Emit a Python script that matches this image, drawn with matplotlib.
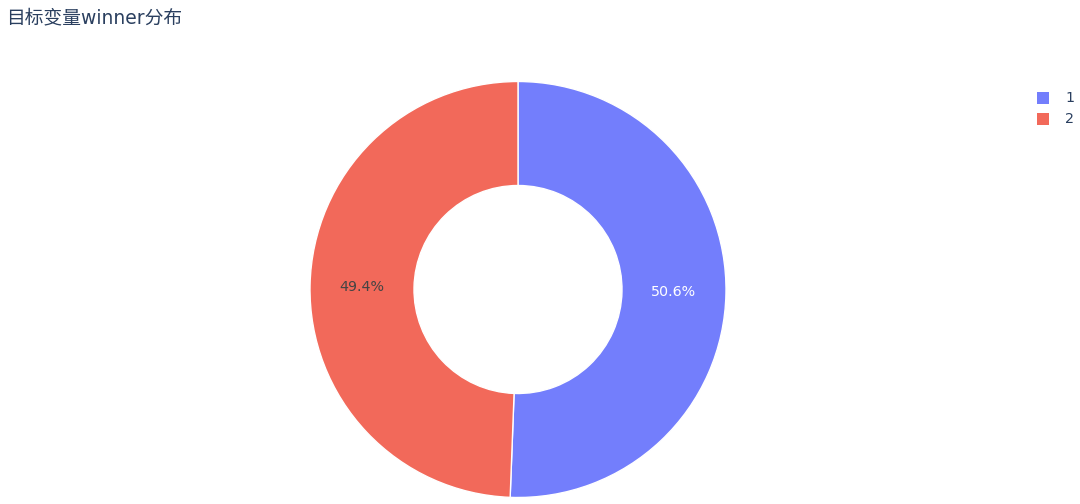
import matplotlib
matplotlib.use("Agg")
import matplotlib.pyplot as plt
from matplotlib.patches import Rectangle

plt.rcParams['font.family'] = ['DejaVu Sans', 'Noto Sans CJK SC']

labels = ['1', '2']
values = [50.6, 49.4]
colors = ['#737efc', '#f2695a']
text_colors = ['white', '#444444']
title = '目标变量winner分布'

W, H = 1080, 504
fig = plt.figure(figsize=(W / 100, H / 100), dpi=100)

cx, cy, r = 518, 289.5, 208
ax = fig.add_axes([(cx - r) / W, (H - cy - r) / H, 2 * r / W, 2 * r / H])
wedges, texts, autotexts = ax.pie(
    values, colors=colors, startangle=90, counterclock=False,
    radius=1.0, autopct='%1.1f%%', pctdistance=0.75,
    wedgeprops=dict(width=0.5, edgecolor='white', linewidth=1.0),
    textprops=dict(fontsize=10.3))
for t, c in zip(autotexts, text_colors):
    t.set_color(c)
ax.set_xlim(-1, 1)
ax.set_ylim(-1, 1)
ax.set_aspect('equal')
ax.axis('off')

fig.text(6 / W, 1 - 18 / H, title, fontsize=13.5, color='#2a3f5f',
         ha='left', va='center')

for i, (lab, col) in enumerate(zip(labels, colors)):
    yc = 98 + 21 * i
    fig.patches.append(Rectangle((1037 / W, 1 - (yc + 6) / H), 12 / W, 12 / H,
                                 transform=fig.transFigure, facecolor=col,
                                 edgecolor='none'))
    fig.text(1065 / W, 1 - yc / H, lab, fontsize=10.3, color='#2a3f5f',
             ha='left', va='center')

fig.savefig('out.png', dpi=100, facecolor='white')
